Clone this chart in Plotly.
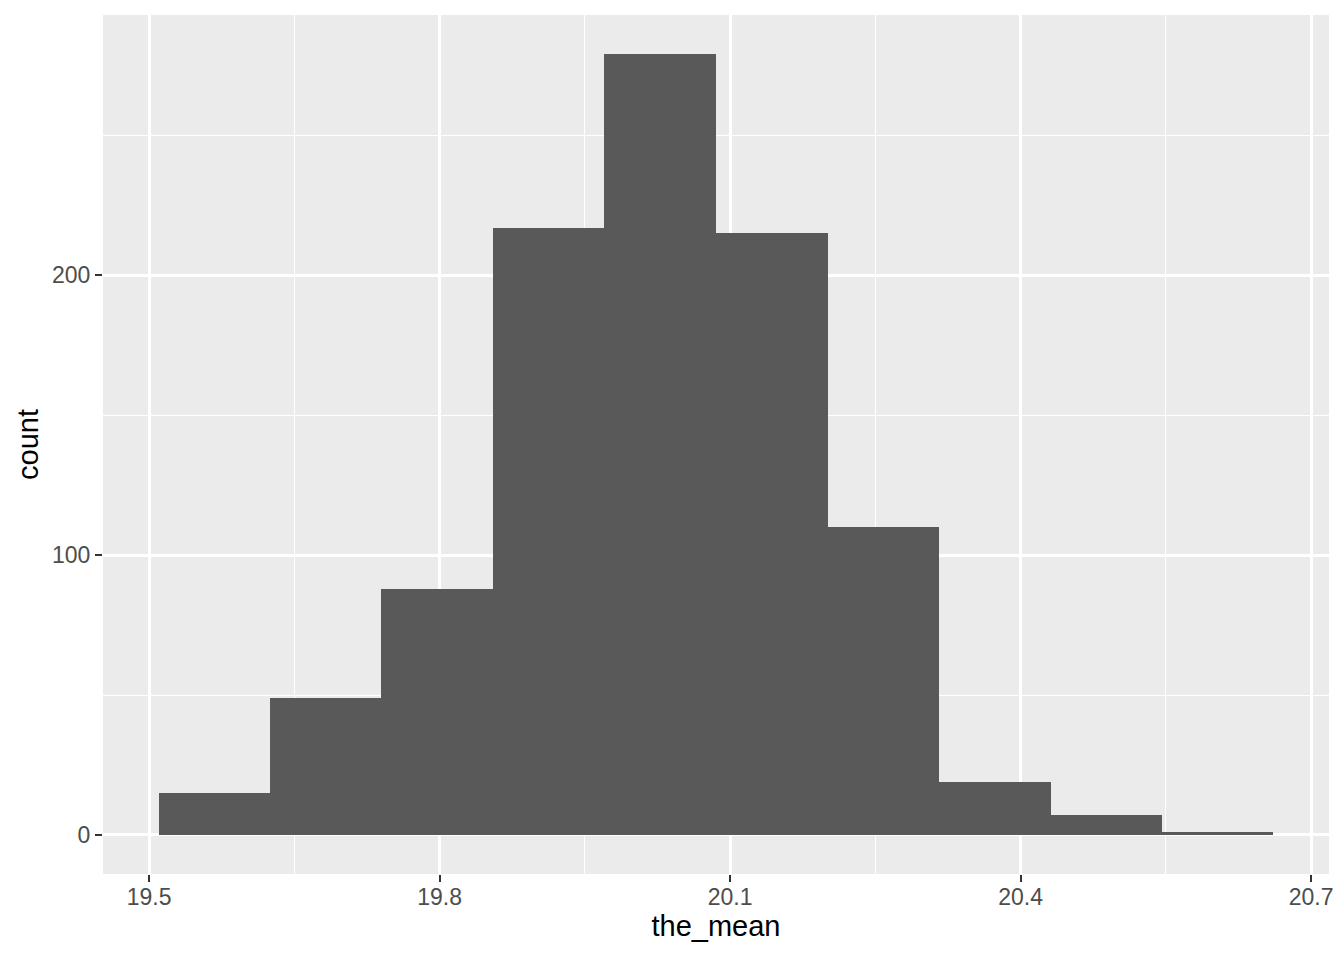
import plotly.graph_objects as go

# histogram of the_mean, 10 bins
bin_edges = [19.510, 19.625, 19.740, 19.855, 19.970, 20.086,
             20.201, 20.316, 20.431, 20.546, 20.661]
counts = [15, 49, 88, 217, 279, 215, 110, 19, 7, 1]

x_ticks = [19.5, 19.8, 20.1, 20.4, 20.7]
x_minor = [19.65, 19.95, 20.25, 20.55]
y_ticks = [0, 100, 200]
y_minor = [50, 150, 250]

centers = [(a + b) / 2 for a, b in zip(bin_edges[:-1], bin_edges[1:])]
widths = [b - a for a, b in zip(bin_edges[:-1], bin_edges[1:])]

span = bin_edges[-1] - bin_edges[0]
x_range = [bin_edges[0] - 0.05 * span, bin_edges[-1] + 0.05 * span]
y_range = [-0.05 * max(counts), 1.05 * max(counts)]

fig = go.Figure(
    go.Bar(
        x=centers,
        y=counts,
        width=widths,
        marker=dict(color="#595959", line=dict(width=0)),
        hoverinfo="x+y",
    )
)

axis_common = dict(
    showline=False,
    zeroline=False,
    showgrid=True,
    gridcolor="white",
    gridwidth=2.7,
    ticks="outside",
    ticklen=7,
    tickwidth=2.3,
    tickcolor="#333333",
    tickfont=dict(family="Liberation Sans", size=23, color="#4D4D4D"),
)

fig.update_xaxes(
    **axis_common,
    range=x_range,
    tickmode="array",
    tickvals=x_ticks,
    ticktext=[f"{v:.1f}" for v in x_ticks],
    ticklabelstandoff=-5,
    minor=dict(tickmode="array", tickvals=x_minor, showgrid=True,
               gridcolor="white", gridwidth=1.4, ticklen=0),
    title=dict(text="the_mean", standoff=4,
               font=dict(family="Liberation Sans", size=29, color="black")),
)
fig.update_yaxes(
    **axis_common,
    range=y_range,
    tickmode="array",
    tickvals=y_ticks,
    minor=dict(tickmode="array", tickvals=y_minor, showgrid=True,
               gridcolor="white", gridwidth=1.4, ticklen=0),
    title=dict(text="count", standoff=4,
               font=dict(family="Liberation Sans", size=29, color="black")),
)

# page body adds an 8px offset, so the figure is 8px smaller each way
fig.update_layout(
    width=1336,
    height=952,
    margin=dict(l=95, r=15, t=7, b=86),
    plot_bgcolor="#EBEBEB",
    paper_bgcolor="white",
    bargap=0,
    showlegend=False,
)

fig.write_html("out.html")
